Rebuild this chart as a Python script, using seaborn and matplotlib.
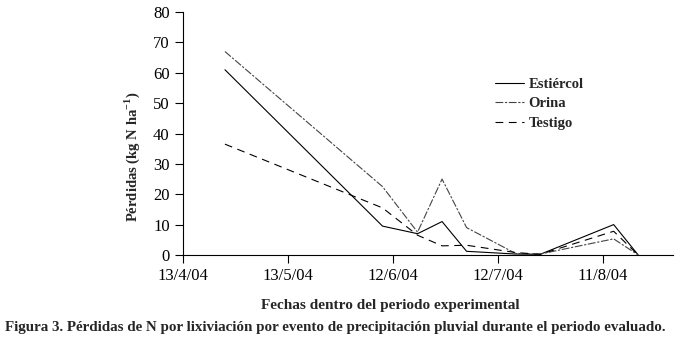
import pandas as pd
import numpy as np
import matplotlib
matplotlib.use('Agg')
import matplotlib.pyplot as plt
import seaborn as sns

# sampling dates (d/m/2004) and N losses in kg N/ha
fechas = ['2004-04-25', '2004-06-09', '2004-06-19', '2004-06-26', '2004-07-03',
          '2004-07-17', '2004-07-24', '2004-08-14', '2004-08-21']
estiercol = [61.0, 9.5, 7.0, 11.0, 1.2, 0.3, 0.2, 10.0, 0.0]
orina = [67.0, 22.5, 7.5, 25.0, 9.0, 0.5, 0.3, 5.3, 0.0]
testigo = [36.5, 15.5, 6.5, 3.0, 3.2, 0.8, 0.2, 7.8, 0.0]

tick_dates = ['2004-04-13', '2004-05-13', '2004-06-12', '2004-07-12', '2004-08-11']
tick_labels = ['13/4/04', '13/5/04', '12/6/04', '12/7/04', '11/8/04']

df = pd.concat([
    pd.DataFrame({'fecha': pd.to_datetime(fechas), 'perdidas': estiercol, 'trat': 'Estiércol'}),
    pd.DataFrame({'fecha': pd.to_datetime(fechas), 'perdidas': orina, 'trat': 'Orina'}),
    pd.DataFrame({'fecha': pd.to_datetime(fechas), 'perdidas': testigo, 'trat': 'Testigo'}),
])

sns.set_theme(style='ticks')
plt.rcParams['font.family'] = ['Liberation Serif', 'DejaVu Serif']

fig = plt.figure(figsize=(6.8, 3.45), dpi=100)
ax = fig.add_axes([0.269, 0.261, 0.721, 0.704])

sns.lineplot(data=df, x='fecha', y='perdidas', hue='trat', style='trat',
             palette={'Estiércol': 'black', 'Orina': '#444444', 'Testigo': 'black'},
             dashes={'Estiércol': '', 'Orina': (7, 1.5, 2, 1.5), 'Testigo': (7, 5)},
             linewidth=0.8, ax=ax)

ax.set_xlim(pd.Timestamp('2004-04-13'), pd.Timestamp('2004-08-31'))
ax.set_ylim(0, 80)
ax.set_yticks(range(0, 81, 10))
ax.set_xticks(pd.to_datetime(tick_dates))
ax.set_xticklabels(tick_labels)
ax.tick_params(axis='both', labelsize=12, direction='out', length=6, width=0.8, colors='black')
for s in ['top', 'right']:
    ax.spines[s].set_visible(False)
for s in ['left', 'bottom']:
    ax.spines[s].set_linewidth(0.8)
    ax.spines[s].set_color('black')

ax.set_xlabel('')
ax.set_ylabel('')
fig.text(132 / 680, 1 - 157 / 345, 'Pérdidas (kg N ha$^{\\mathregular{-1}}$)',
         rotation=90, ha='center', va='center', fontsize=10.5, fontweight='bold')

leg = ax.legend(loc='upper left', bbox_to_anchor=(0.61, 0.785), frameon=False,
                fontsize=10.5, handlelength=2.0, handletextpad=0.3, labelspacing=0.45)
for t in leg.get_texts():
    t.set_fontweight('bold')

fig.text(390 / 680, 1 - 309 / 345, 'Fechas dentro del periodo experimental',
         ha='center', va='baseline', fontsize=11, fontweight='bold')
fig.text(5 / 680, 1 - 327 / 345,
         'Figura 3. Pérdidas de N por lixiviación por evento de precipitación pluvial durante el periodo evaluado.',
         ha='left', va='center', fontsize=10.8, fontweight='bold')

fig.savefig('out.png', dpi=100)
